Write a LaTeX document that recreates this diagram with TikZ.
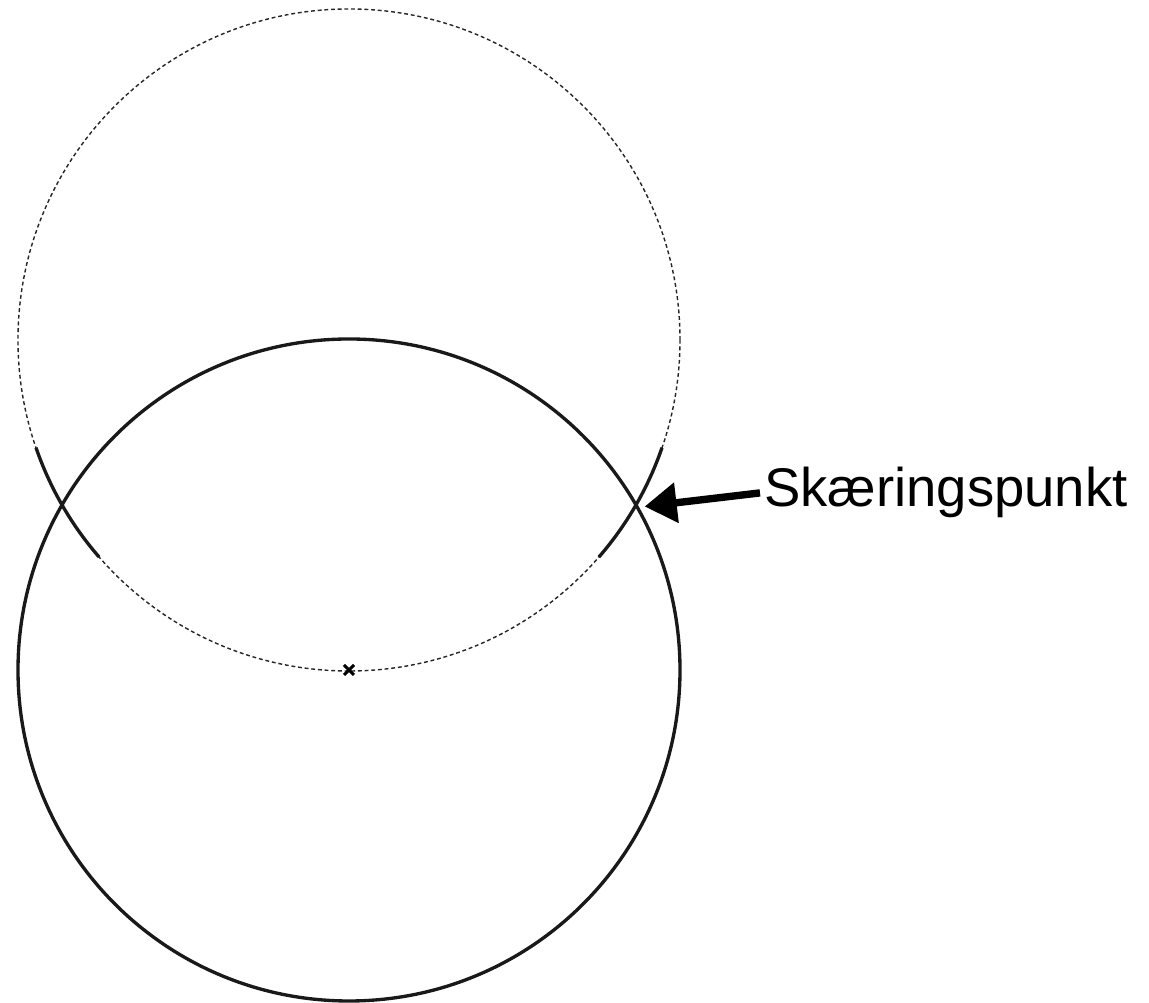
\documentclass[tikz,border=0pt]{standalone}
\usepackage{fontspec}
\setmainfont{Liberation Sans}
\usetikzlibrary{arrows.meta, positioning, calc}
\tikzstyle{arrow} = [line width=4.2pt, -{Triangle[length=0.64cm, width=0.78cm]}]

\begin{document}
\begin{tikzpicture}[
	x=0.02cm, y=0.02cm,
	solidcircle/.style={line width=1.9pt, draw=black!90},
	dottedcircle/.style={line width=0.8pt, draw=black!85, dash pattern=on 2.2pt off 1.6pt},
	label/.style={font=\fontsize{31}{36}\selectfont, inner sep=0pt, anchor=base west}
]
\useasboundingbox (0,0) rectangle (1149,1003);

% Centres
\coordinate (top) at (349,663);
\coordinate (bot) at (349,333);

% Circles
\draw[dottedcircle] (top) circle[radius=331];
\draw[solidcircle] (bot) circle[radius=331];

% Solid arcs at the intersections
\draw[solidcircle] ($(top)+(199:331)$) arc[start angle=199, end angle=221, radius=331];
\draw[solidcircle] ($(top)+(319:331)$) arc[start angle=319, end angle=341, radius=331];

% Centre mark
\draw[line width=1.8pt] ($(bot)+(-5,-5)$) -- ($(bot)+(5,5)$);
\draw[line width=1.8pt] ($(bot)+(-5,5)$) -- ($(bot)+(5,-5)$);

% Intersection and label
\coordinate (cross) at ($(top)+(330:331)$);
\coordinate (tip) at ($(cross)+(9,-1)$);
\node[label] (skp) at (764,496) {Skæringspunkt};
\draw[arrow] ($(skp.west)+(-4,0)$) -- (tip);

\end{tikzpicture}
\end{document}
